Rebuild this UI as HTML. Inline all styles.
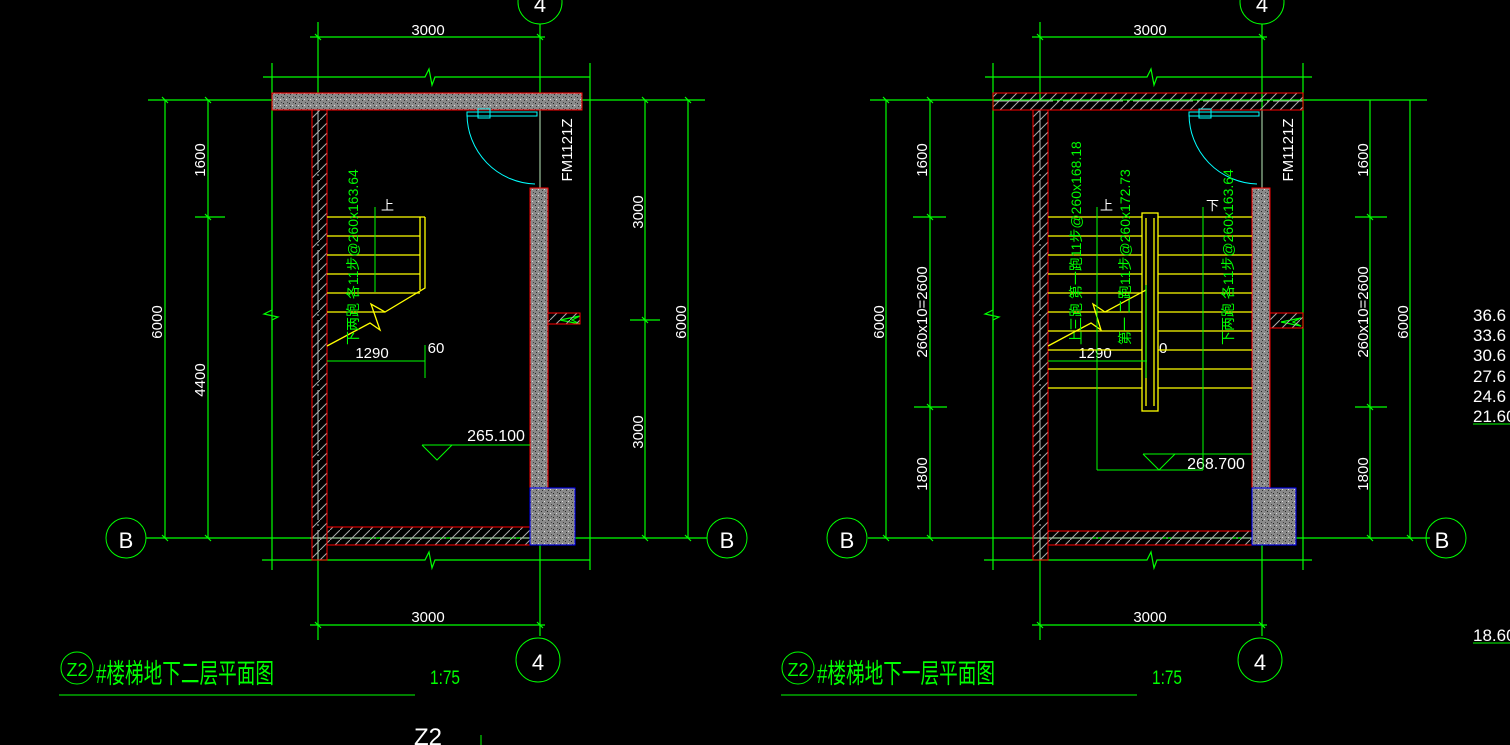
<!DOCTYPE html>
<html><head><meta charset="utf-8"><style>
html,body{margin:0;padding:0;background:#000;width:1510px;height:745px;overflow:hidden}
svg{display:block}
text{font-family:"Liberation Sans","Noto Sans CJK SC",sans-serif}
</style></head><body>
<svg width="1510" height="745" viewBox="0 0 1510 745" xmlns="http://www.w3.org/2000/svg">
<defs>
<pattern id="h" width="10" height="10" patternUnits="userSpaceOnUse"><path d="M0 10 L10 0" stroke="#aaa" stroke-width="1"/></pattern>
<pattern id="c" width="6" height="6" patternUnits="userSpaceOnUse"><rect width="6" height="6" fill="#8a8a8a"/><rect x="1" y="1" width="1" height="1" fill="#222"/><rect x="4" y="3" width="1" height="1" fill="#ddd"/><rect x="2" y="4" width="1" height="1" fill="#333"/><rect x="5" y="0" width="1" height="1" fill="#444"/></pattern>
</defs>

<g id="L">
<circle cx="540" cy="2" r="22" fill="none" stroke="#0f0"/>
<text x="540" y="12" fill="#fff" font-size="22" text-anchor="middle">4</text>
<g stroke="#0f0" stroke-width="1.2" fill="none">
<line x1="540" y1="24" x2="540" y2="636"/>
<line x1="318" y1="22" x2="318" y2="100"/>
<line x1="310" y1="37" x2="545" y2="37"/>
<path d="M263 77 H425 l4 -8 l3 16 l3 -8 H590"/>
<line x1="272" y1="63" x2="272" y2="570"/>
<line x1="148" y1="100" x2="705" y2="100"/>
<line x1="165" y1="100" x2="165" y2="538"/>
<line x1="208" y1="100" x2="208" y2="538"/>
<line x1="195" y1="217" x2="225" y2="217"/>
<line x1="146" y1="538" x2="707" y2="538"/>
<path d="M262 560 H425 l4 -8 l3 16 l3 -8 H590"/>
<line x1="318" y1="540" x2="318" y2="640"/>
<line x1="310" y1="625" x2="545" y2="625"/>
<line x1="590" y1="63" x2="590" y2="570"/>
<line x1="645" y1="100" x2="645" y2="538"/>
<line x1="630" y1="320" x2="660" y2="320"/>
<line x1="688" y1="100" x2="688" y2="538"/>
<path d="M272 300 v10 l-8 4 l14 3 l-6 3 v10"/>
<path d="M572 320 l8 -4 l-20 4 l20 4 z"/>
<path d="M315 34 l6 6 M537 34 l6 6 M315 622 l6 6 M537 622 l6 6 M162 97 l6 6 M205 97 l6 6 M162 535 l6 6 M205 535 l6 6 M205 214 l6 6 M642 97 l6 6 M685 97 l6 6 M642 535 l6 6 M685 535 l6 6 M642 317 l6 6"/>
</g>
<g stroke="#bbb" fill="none"><line x1="318" y1="110" x2="318" y2="560" stroke-dasharray="60 4 2 4"/><line x1="272" y1="101" x2="582" y2="101" stroke-dasharray="60 4 2 4"/><line x1="310" y1="538" x2="575" y2="538" stroke-dasharray="60 4 2 4"/><line x1="540" y1="110" x2="540" y2="188"/><line x1="540" y1="188" x2="540" y2="545" stroke-dasharray="60 4 2 4"/></g>
<circle cx="126" cy="538" r="20" fill="none" stroke="#0f0"/>
<text x="126" y="548" fill="#fff" font-size="22" text-anchor="middle">B</text>
<circle cx="727" cy="538" r="20" fill="none" stroke="#0f0"/>
<text x="727" y="548" fill="#fff" font-size="22" text-anchor="middle">B</text>
<circle cx="538" cy="660" r="22" fill="none" stroke="#0f0"/>
<text x="538" y="670" fill="#fff" font-size="22" text-anchor="middle">4</text>
<g fill="#fff" font-size="15">
<text x="428" y="35" text-anchor="middle">3000</text>
<text x="428" y="622" text-anchor="middle">3000</text>
<text transform="translate(162,322) rotate(-90)" text-anchor="middle">6000</text>
<text transform="translate(205,160) rotate(-90)" text-anchor="middle">1600</text>
<text transform="translate(205,380) rotate(-90)" text-anchor="middle">4400</text>
<text transform="translate(643,212) rotate(-90)" text-anchor="middle">3000</text>
<text transform="translate(643,432) rotate(-90)" text-anchor="middle">3000</text>
<text transform="translate(686,322) rotate(-90)" text-anchor="middle">6000</text>
<text transform="translate(572,150) rotate(-90)" text-anchor="middle">FM1121Z</text>
<text x="372" y="358" text-anchor="middle">1290</text>
<text x="436" y="353" text-anchor="middle">60</text>
<text x="496" y="441" text-anchor="middle" font-size="16">265.100</text>
</g>
<rect x="272" y="93" width="310" height="17" fill="url(#c)" stroke="#f00"/>
<rect x="312" y="110" width="15" height="450" fill="url(#h)" stroke="#f00"/>
<rect x="327" y="527" width="204" height="18" fill="url(#h)" stroke="#f00"/>
<rect x="530" y="188" width="18" height="300" fill="url(#c)" stroke="#f00"/>
<rect x="530" y="488" width="45" height="57" fill="url(#c)" stroke="#00f"/>
<rect x="548" y="313" width="32" height="11" fill="url(#h)" stroke="#f00"/>
<g stroke="#0ff" fill="none">
<rect x="467" y="112" width="70" height="4"/>
<rect x="478" y="109" width="12" height="9"/>
<path d="M467 114 A70 70 0 0 0 535 184"/>
</g>
<g stroke="#ff0" stroke-width="1.3" fill="none">
<path d="M327 217 H425 M327 236 H420 M327 255 H420 M327 274 H420 M327 293 H420 M327 312 H385"/>
<path d="M420 217 V290 M425 217 V288 L385 312 L371 304 L380 330 L370 323 L327 346"/>
</g>
<g stroke="#0f0" fill="none"><line x1="375" y1="207" x2="375" y2="292"/><line x1="327" y1="361" x2="425" y2="361"/><line x1="425" y1="345" x2="425" y2="378"/><path d="M422 445 H530 M422 445 L437 460 L452 445"/></g>
<text x="381" y="210" fill="#fff" font-size="13">上</text>
<text transform="translate(358,345) rotate(-90)" fill="#0f0" font-size="14">下两跑 各11步@260x163.64</text>
</g>

<g id="R">
<circle cx="1262" cy="2" r="22" fill="none" stroke="#0f0"/>
<text x="1262" y="12" fill="#fff" font-size="22" text-anchor="middle">4</text>
<g stroke="#0f0" stroke-width="1.2" fill="none">
<line x1="1262" y1="24" x2="1262" y2="636"/>
<line x1="1040" y1="22" x2="1040" y2="100"/>
<line x1="1032" y1="37" x2="1267" y2="37"/>
<path d="M985 77 H1147 l4 -8 l3 16 l3 -8 H1312"/>
<line x1="993" y1="63" x2="993" y2="570"/>
<line x1="870" y1="100" x2="1427" y2="100"/>
<line x1="886" y1="100" x2="886" y2="538"/>
<line x1="930" y1="100" x2="930" y2="538"/>
<line x1="913" y1="217" x2="946" y2="217"/><line x1="914" y1="407" x2="947" y2="407"/>
<line x1="868" y1="538" x2="1430" y2="538"/>
<path d="M984 560 H1147 l4 -8 l3 16 l3 -8 H1312"/>
<line x1="1040" y1="540" x2="1040" y2="640"/>
<line x1="1032" y1="625" x2="1267" y2="625"/>
<line x1="1303" y1="63" x2="1303" y2="570"/>
<line x1="1370" y1="100" x2="1370" y2="538"/>
<line x1="1355" y1="217" x2="1387" y2="217"/><line x1="1355" y1="407" x2="1387" y2="407"/>
<line x1="1410" y1="100" x2="1410" y2="538"/>
<path d="M993 300 v10 l-8 4 l14 3 l-6 3 v10"/>
<path d="M1293 322 l8 -4 l-20 4 l20 4 z"/>
<path d="M1037 34 l6 6 M1259 34 l6 6 M1037 622 l6 6 M1259 622 l6 6 M883 97 l6 6 M927 97 l6 6 M883 535 l6 6 M927 535 l6 6 M927 214 l6 6 M927 404 l6 6 M1367 214 l6 6 M1367 404 l6 6 M1367 535 l6 6 M1407 535 l6 6"/>
</g>
<g stroke="#bbb" fill="none"><line x1="1040" y1="110" x2="1040" y2="560" stroke-dasharray="60 4 2 4"/><line x1="993" y1="101" x2="1303" y2="101" stroke-dasharray="60 4 2 4"/><line x1="1032" y1="538" x2="1296" y2="538" stroke-dasharray="60 4 2 4"/><line x1="1262" y1="110" x2="1262" y2="188"/><line x1="1262" y1="188" x2="1262" y2="545" stroke-dasharray="60 4 2 4"/></g>
<circle cx="847" cy="538" r="20" fill="none" stroke="#0f0"/>
<text x="847" y="548" fill="#fff" font-size="22" text-anchor="middle">B</text>
<circle cx="1446" cy="538" r="20" fill="none" stroke="#0f0"/>
<text x="1442" y="548" fill="#fff" font-size="22" text-anchor="middle">B</text>
<circle cx="1260" cy="660" r="22" fill="none" stroke="#0f0"/>
<text x="1260" y="670" fill="#fff" font-size="22" text-anchor="middle">4</text>
<g fill="#fff" font-size="15">
<text x="1150" y="35" text-anchor="middle">3000</text>
<text x="1150" y="622" text-anchor="middle">3000</text>
<text transform="translate(884,322) rotate(-90)" text-anchor="middle">6000</text>
<text transform="translate(927,160) rotate(-90)" text-anchor="middle">1600</text>
<text transform="translate(927,312) rotate(-90)" text-anchor="middle">260x10=2600</text>
<text transform="translate(927,474) rotate(-90)" text-anchor="middle">1800</text>
<text transform="translate(1368,160) rotate(-90)" text-anchor="middle">1600</text>
<text transform="translate(1368,312) rotate(-90)" text-anchor="middle">260x10=2600</text>
<text transform="translate(1368,474) rotate(-90)" text-anchor="middle">1800</text>
<text transform="translate(1408,322) rotate(-90)" text-anchor="middle">6000</text>
<text transform="translate(1293,150) rotate(-90)" text-anchor="middle">FM1121Z</text>
<text x="1095" y="358" text-anchor="middle">1290</text>
<text x="1159" y="353" text-anchor="middle">60</text>
<text x="1216" y="469" text-anchor="middle" font-size="16">268.700</text>
</g>
<rect x="993" y="93" width="310" height="17" fill="url(#h)" stroke="#f00"/>
<rect x="1033" y="110" width="15" height="450" fill="url(#h)" stroke="#f00"/>
<rect x="1048" y="531" width="204" height="14" fill="url(#h)" stroke="#f00"/>
<rect x="1252" y="188" width="18" height="300" fill="url(#c)" stroke="#f00"/>
<rect x="1252" y="488" width="44" height="57" fill="url(#c)" stroke="#00f"/>
<rect x="1270" y="313" width="33" height="15" fill="url(#h)" stroke="#f00"/>
<g stroke="#0ff" fill="none">
<rect x="1189" y="112" width="70" height="4"/>
<rect x="1199" y="109" width="12" height="9"/>
<path d="M1189 114 A70 70 0 0 0 1257 184"/>
</g>
<g stroke="#ff0" stroke-width="1.3" fill="none">
<path d="M1048 217 H1252 M1048 236 H1252 M1048 255 H1252 M1048 274 H1252 M1048 293 H1252 M1048 312 H1252 M1048 331 H1252 M1048 350 H1252 M1048 369 H1252 M1048 388 H1252"/>
<rect x="1142" y="213" width="16" height="198" fill="#000"/>
<path d="M1146 218 V406 M1154 218 V406"/>
<path d="M1146 290 L1105 312 L1093 304 L1101 330 L1091 323 L1048 346"/>
</g>
<g stroke="#0f0" fill="none"><line x1="1097" y1="207" x2="1097" y2="470"/><line x1="1203" y1="207" x2="1203" y2="470"/><line x1="1097" y1="470" x2="1203" y2="470"/><line x1="1048" y1="361" x2="1147" y2="361"/><line x1="1146" y1="285" x2="1146" y2="378"/><path d="M1143 454 H1252 M1143 454 L1159 470 L1175 454"/></g>
<text x="1100" y="210" fill="#fff" font-size="13">上</text>
<text x="1206" y="210" fill="#fff" font-size="13">下</text>
<g fill="#0f0" font-size="14">
<text transform="translate(1081,345) rotate(-90)">上三跑 第一跑11步@260x168.18</text>
<text transform="translate(1130,345) rotate(-90)">第一 二跑11步@260x172.73</text>
<text transform="translate(1233,345) rotate(-90)">下两跑 各11步@260x163.64</text>
</g>
</g>

<g fill="#0f0">
<circle cx="77" cy="668" r="16" fill="none" stroke="#0f0"/>
<text x="77" y="676" font-size="18" text-anchor="middle">Z2</text>
<text x="96" y="683" font-size="27" textLength="178" lengthAdjust="spacingAndGlyphs">#楼梯地下二层平面图</text>
<text x="430" y="684" font-size="19" textLength="30" lengthAdjust="spacingAndGlyphs">1:75</text>
<circle cx="798" cy="668" r="16" fill="none" stroke="#0f0"/>
<text x="798" y="676" font-size="18" text-anchor="middle">Z2</text>
<text x="817" y="683" font-size="27" textLength="178" lengthAdjust="spacingAndGlyphs">#楼梯地下一层平面图</text>
<text x="1152" y="684" font-size="19" textLength="30" lengthAdjust="spacingAndGlyphs">1:75</text>
</g>
<g stroke="#0f0"><line x1="59" y1="695" x2="415" y2="695"/><line x1="781" y1="695" x2="1137" y2="695"/><line x1="481" y1="735" x2="481" y2="745"/></g>
<text x="428" y="745" fill="#fff" font-size="24" text-anchor="middle">Z2</text>
<g fill="#fff" font-size="17">
<text x="1473" y="321">36.6</text><text x="1473" y="341">33.6</text><text x="1473" y="361">30.6</text>
<text x="1473" y="382">27.6</text><text x="1473" y="402">24.6</text><text x="1473" y="422">21.60</text>
<text x="1473" y="641">18.60</text>
</g>
<g stroke="#0f0"><line x1="1473" y1="424" x2="1510" y2="424"/><line x1="1473" y1="643" x2="1510" y2="643"/></g>
</svg>
</body></html>
